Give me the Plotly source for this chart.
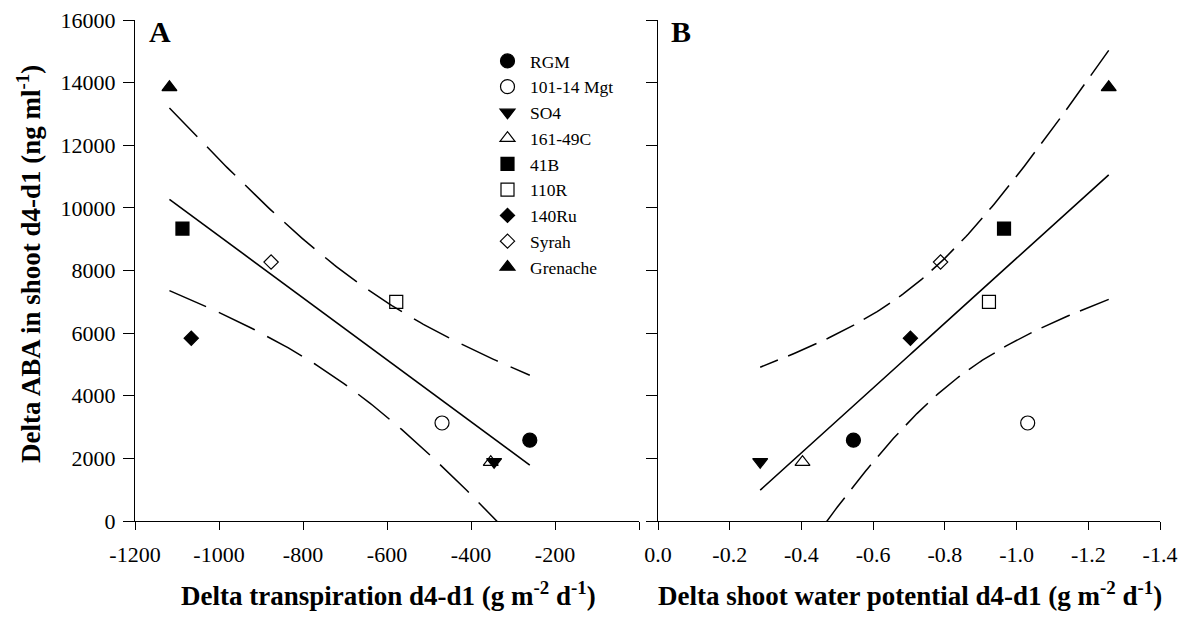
import numpy as np
import plotly.graph_objects as go

# ---------------- data ----------------
cultivars = ["RGM", "101-14 Mgt", "SO4", "161-49C", "41B", "110R", "140Ru", "Syrah", "Grenache"]
symbols = ["circle", "circle-open", "triangle-down", "triangle-up-open", "square",
           "square-open", "diamond", "diamond-open", "triangle-up"]
marker_sizes = [14, 14, 13, 13, 13, 13, 11, 11, 13]
delta_aba = [2580, 3130, 1890, 1880, 9340, 7000, 5840, 8270, 13850]
delta_transpiration = [-260, -469, -345, -353, -1087, -578, -1066, -876, -1118]
delta_water_potential = [-0.545, -1.031, -0.285, -0.403, -0.965, -0.923, -0.704, -0.788, -1.257]

a_ticks = [-1200, -1000, -800, -600, -400, -200]
a_ticktext = ["-1200", "-1000", "-800", "-600", "-400", "-200"]
b_ticks = [0.0, -0.2, -0.4, -0.6, -0.8, -1.0, -1.2, -1.4]
b_ticktext = ["0.0", "-0.2", "-0.4", "-0.6", "-0.8", "-1.0", "-1.2", "-1.4"]
y_ticks = list(range(0, 16001, 2000))
y_ticktext = [str(v) for v in y_ticks]

T_975_DF7 = 2.3646  # Student t quantile, 95 % two-sided, 7 d.f.


def fit_band(x, y, n=150):
    x = np.asarray(x, float)
    y = np.asarray(y, float)
    slope, intercept = np.polyfit(x, y, 1)
    xs = np.linspace(x.min(), x.max(), n)
    yhat = intercept + slope * xs
    resid = y - (intercept + slope * x)
    s = np.sqrt(np.sum(resid ** 2) / (len(x) - 2))
    sxx = np.sum((x - x.mean()) ** 2)
    hw = T_975_DF7 * s * np.sqrt(1 / len(x) + (xs - x.mean()) ** 2 / sxx)
    return xs, yhat, yhat + hw, yhat - hw


# page body has an 8px default margin -> figure is drawn 8px right/down
OFF = 8
W, H = 1188 - OFF, 617 - OFF
ML, MT = 135 - OFF, 20 - OFF
MR = W - (1160 - OFF)
MB = H - (521 - OFF)
PW, PH = W - ML - MR, H - MT - MB
FONT = "Liberation Serif"


def px_x(p):  # reference-screen x -> paper fraction
    return (p - OFF - ML) / PW


def px_y(p):  # reference-screen y -> paper fraction
    return (H - MB - (p - OFF)) / PH


fig = go.Figure()

# fitted lines + confidence bands
for xdata, xa, ya, dash in [(delta_transpiration, "x", "y", "40px,14px"),
                             (delta_water_potential, "x2", "y2", "31px,11px")]:
    xs, yh, up, lo = fit_band(xdata, delta_aba)
    fig.add_trace(go.Scatter(x=xs, y=yh, mode="lines", line=dict(color="black", width=1.6),
                             xaxis=xa, yaxis=ya, showlegend=False, hoverinfo="skip"))
    for band in (up, lo):
        fig.add_trace(go.Scatter(x=xs, y=band, mode="lines",
                                 line=dict(color="black", width=1.5, dash=dash),
                                 xaxis=xa, yaxis=ya, showlegend=False, hoverinfo="skip"))

# points
for i, name in enumerate(cultivars):
    mk = dict(symbol=symbols[i], size=marker_sizes[i], color="black",
              line=dict(color="black", width=1.2))
    fig.add_trace(go.Scatter(x=[delta_transpiration[i]], y=[delta_aba[i]], mode="markers",
                             marker=mk, name=name, legendgroup=name, xaxis="x", yaxis="y"))
    fig.add_trace(go.Scatter(x=[delta_water_potential[i]], y=[delta_aba[i]], mode="markers",
                             marker=mk, name=name, legendgroup=name, showlegend=False,
                             xaxis="x2", yaxis="y2"))

axis_common = dict(showgrid=False, zeroline=False, showline=True, linecolor="black",
                   linewidth=1.3, ticks="outside", tickcolor="black", tickwidth=1.2,
                   tickfont=dict(family=FONT, size=22, color="black"), mirror=False,
                   automargin=False, ticklabeloverflow="allow")

fig.update_layout(
    template="none",
    width=W, height=H,
    margin=dict(l=ML, r=MR, t=MT, b=MB, pad=0),
    paper_bgcolor="white", plot_bgcolor="white",
    font=dict(family=FONT, color="black"),
    xaxis=dict(domain=[0, px_x(639)], range=[-1200, 0], tickvals=a_ticks,
               ticktext=a_ticktext, ticklen=8, ticklabelstandoff=5, anchor="y",
               minor=dict(tickvals=[0], ticks="outside", ticklen=8, tickcolor="black",
                          tickwidth=1.2),
               **axis_common),
    yaxis=dict(domain=[0, 1], range=[0, 16000], tickvals=y_ticks, ticktext=y_ticktext,
               ticklen=11, ticklabelstandoff=3, anchor="x", **axis_common),
    xaxis2=dict(domain=[px_x(658), 1], range=[0, -1.4], tickvals=b_ticks,
                ticktext=b_ticktext, ticklen=8, ticklabelstandoff=5, anchor="y2", **axis_common),
    yaxis2=dict(domain=[0, 1], range=[0, 16000], tickvals=y_ticks, showticklabels=False,
                ticklen=11, anchor="x2", **axis_common),
    legend=dict(x=px_x(485), y=px_y(43), xanchor="left", yanchor="top",
                bgcolor="rgba(0,0,0,0)", font=dict(family=FONT, size=17.5, color="black"),
                tracegroupgap=0, itemwidth=35, borderwidth=0),
    showlegend=True,
)

annotations = [
    dict(text="<b>A</b>", x=px_x(160), y=px_y(32), font=dict(size=30)),
    dict(text="<b>B</b>", x=px_x(681), y=px_y(32), font=dict(size=30)),
    dict(text="<b>Delta transpiration d4-d1 (g m<sup>-2</sup> d<sup>-1</sup>)</b>",
         x=px_x(388), y=px_y(594), font=dict(size=27)),
    dict(text="<b>Delta shoot water potential d4-d1 (g m<sup>-2</sup> d<sup>-1</sup>)</b>",
         x=px_x(910), y=px_y(594), font=dict(size=27)),
    dict(text="<b>Delta ABA in shoot d4-d1 (ng ml<sup>-1</sup>)</b>",
         x=px_x(29), y=px_y(264), textangle=-90, font=dict(size=27)),
]
for a in annotations:
    a.update(xref="paper", yref="paper", showarrow=False, xanchor="center", yanchor="middle")
    a["font"].update(family=FONT, color="black")
fig.update_layout(annotations=annotations)

fig.write_html("out.html")
